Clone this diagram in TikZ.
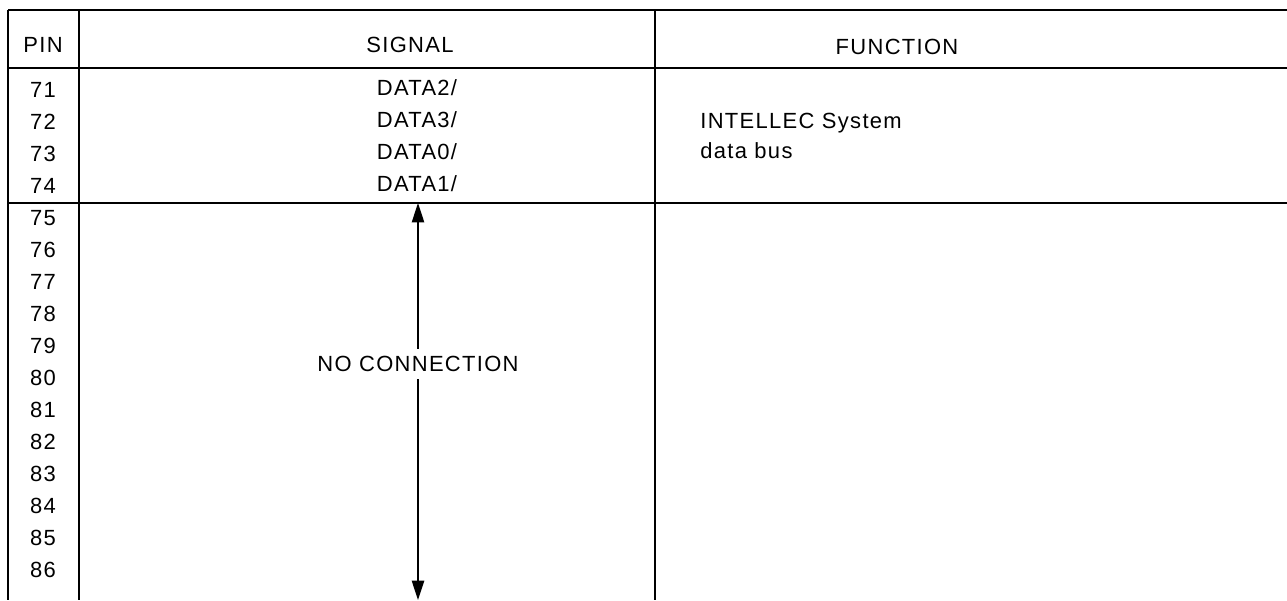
\documentclass[tikz,border=0pt]{standalone}
\usepackage{fontspec}
\setmainfont[LetterSpace=6]{Liberation Sans}
\usepackage{tikz}
\usetikzlibrary{calc}
\usetikzlibrary{arrows.meta}
\usetikzlibrary{positioning}

\begin{document}
\begin{tikzpicture}[x=0.02cm,y=-0.02cm]
\tikzset{hrule/.style={draw=black, line width=1.2pt}}
\tikzset{vrule/.style={draw=black, line width=1.5pt}}
\tikzset{cell/.style={inner sep=0pt, text height=9pt, text depth=0pt, font=\fontsize{12.5}{15}\selectfont}}
\tikzset{span/.style={line width=0.8pt, -{Triangle[length=11pt,width=7pt]}}}

\pgfmathsetmacro{\xpin}{43}
\pgfmathsetmacro{\xsig}{418}
\pgfmathsetmacro{\xfun}{700}
\pgfmathsetmacro{\rowh}{32}

\useasboundingbox (0,0) rectangle (1287,600);

% table rules
\draw[hrule] (8,10) -- (1287,10);
\draw[hrule] (8,68) -- (1287,68);
\draw[hrule] (8,203) -- (1287,203);
\draw[vrule] (8,10) -- (8,600);
\draw[vrule] (79,10) -- (79,600);
\draw[vrule] (655,10) -- (655,600);

% header
\node[cell] (hpin) at (\xpin,45) {PIN};
\node[cell] (hsig) at (410,45) {SIGNAL};
\node[cell] (hfun) at (897,47) {FUNCTION};

% data bus rows
\foreach \p [count=\i from 0] in {71,72,73,74}
  \node[cell] (pin\p) at (\xpin, 90+\rowh*\i) {\p};
\foreach \s [count=\i from 0] in {DATA2,DATA3,DATA0,DATA1}
  \node[cell] (sig\i) at (417, 88+\rowh*\i) {\s/};

\node[cell, anchor=base west] (fun1) at (\xfun,128) {INTELLEC System};
\node[cell, anchor=base west] (fun2) at (\xfun,158) {data bus};

% unused pins
\foreach \p [count=\i from 0] in {75,...,86}
  \node[cell] (pin\p) at (\xpin, 218+\rowh*\i) {\p};

\node[cell, inner sep=4pt] (nc) at (\xsig,364) {NO CONNECTION};
\coordinate (up) at (\xsig,203);
\coordinate (dn) at (\xsig,600);
\draw[span] (nc.north) -- (up);
\draw[span] (nc.south) -- (dn);
\end{tikzpicture}
\end{document}
